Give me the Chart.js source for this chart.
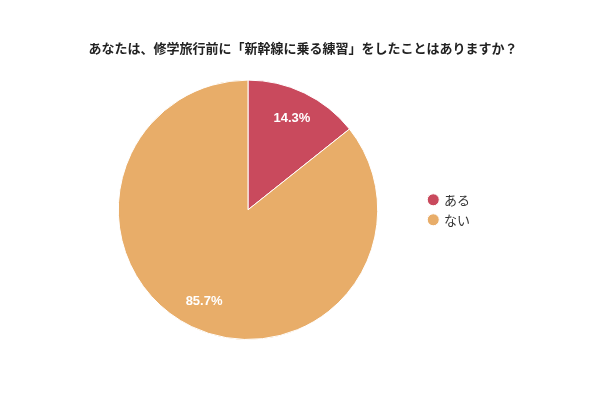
<!DOCTYPE html>
<html>
<head>
<meta charset="utf-8">
<script src="https://cdn.jsdelivr.net/npm/chart.js@4"></script>
<style>
  html, body { margin: 0; padding: 0; background: #fff; }
  #wrap { width: 600px; height: 400px; }
</style>
</head>
<body>
<div id="wrap"><canvas id="pieChart" width="600" height="400"></canvas></div>
<script>
// データ
const titleText = 'あなたは、修学旅行前に「新幹線に乗る練習」をしたことはありますか？';
const categories = ['ある', 'ない'];
const percentValues = [14.3, 85.7];
const sliceColors = ['#C94A5D', '#E8AD69'];

const jpFont = '"Noto Sans CJK JP", "Noto Sans", sans-serif';

// タイトルはキャンバス全幅で中央寄せ（パディングの影響を外す）
const fullWidthTitle = {
    id: 'fullWidthTitle',
    afterLayout(chart) {
        const t = chart.titleBlock;
        if (t) {
            t.left = 0;
            t.right = chart.width + 6;
            t.width = t.right - t.left;
        }
    }
};

// スライス内にパーセント表示
const sliceLabels = {
    id: 'sliceLabels',
    afterDatasetsDraw(chart) {
        const ctx = chart.ctx;
        const meta = chart.getDatasetMeta(0);
        ctx.save();
        ctx.fillStyle = '#ffffff';
        ctx.font = 'bold 13px "Liberation Sans", Arial, sans-serif';
        ctx.textAlign = 'center';
        ctx.textBaseline = 'middle';
        meta.data.forEach((arc, i) => {
            const mid = (arc.startAngle + arc.endAngle) / 2;
            const r = arc.outerRadius * 0.78;
            const x = arc.x + Math.cos(mid) * r;
            const y = arc.y + Math.sin(mid) * r;
            ctx.fillText(percentValues[i].toFixed(1) + '%', x, y);
        });
        ctx.restore();
    }
};

new Chart(document.getElementById('pieChart'), {
    type: 'pie',
    data: {
        labels: categories,
        datasets: [{
            data: percentValues,
            backgroundColor: sliceColors,
            borderColor: '#ffffff',
            borderWidth: 1
        }]
    },
    options: {
        responsive: false,
        animation: false,
        layout: { padding: { left: 74, right: 120, top: 0, bottom: 60 } },
        plugins: {
            title: {
                display: true,
                text: titleText,
                color: '#222',
                font: { family: jpFont, size: 13, weight: 'bold' },
                padding: { top: 40, bottom: 24 }
            },
            legend: {
                position: 'right',
                fullSize: false,
                labels: {
                    usePointStyle: true,
                    pointStyle: 'circle',
                    boxWidth: 8.5,
                    boxHeight: 8.5,
                    padding: 7,
                    color: '#333',
                    font: { family: jpFont, size: 13 }
                }
            },
            tooltip: { enabled: false }
        }
    },
    plugins: [fullWidthTitle, sliceLabels]
});
</script>
</body>
</html>
